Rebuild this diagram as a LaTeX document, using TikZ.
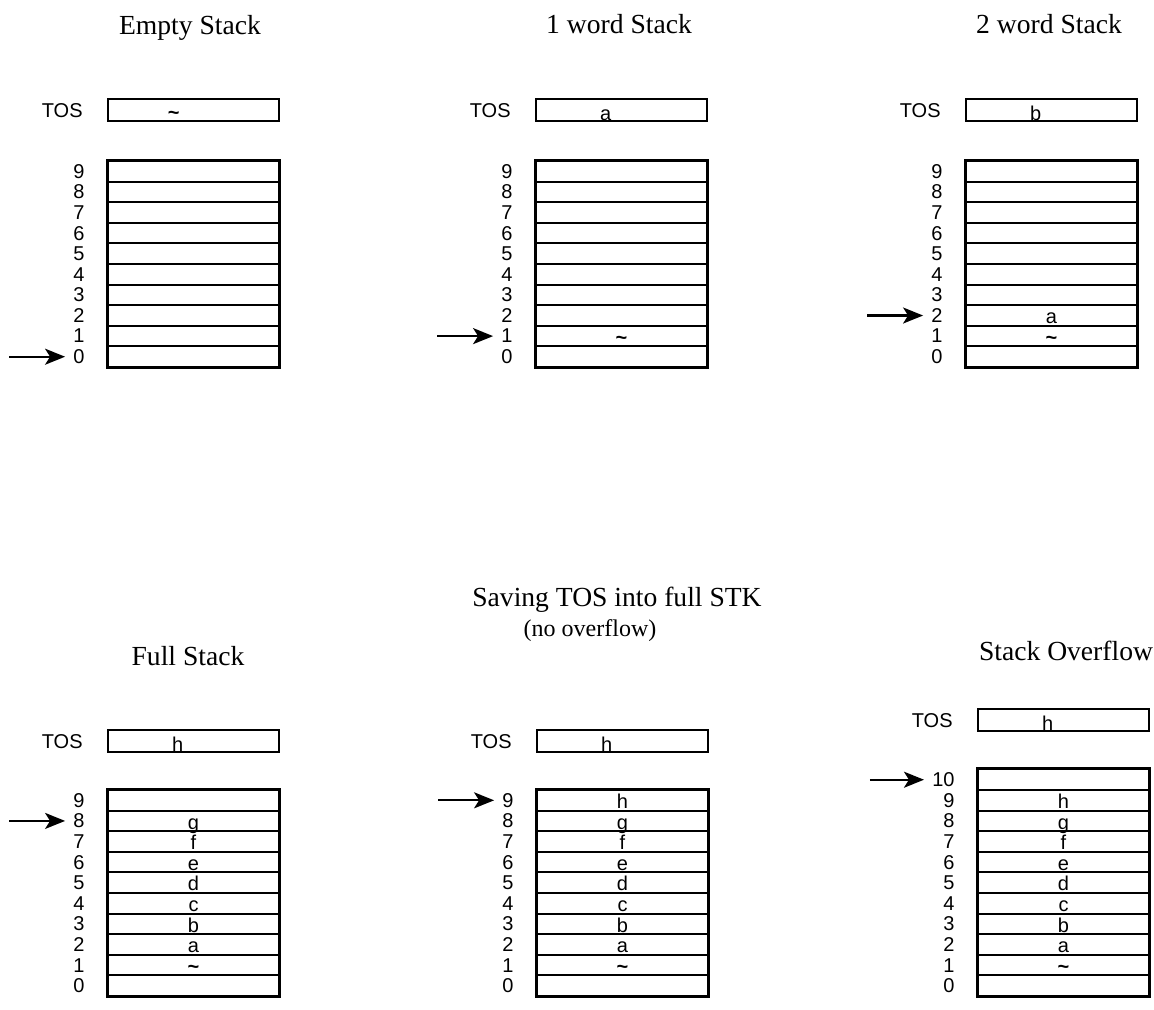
\documentclass[tikz,border=0pt]{standalone}
\usepackage{fontspec}
\setmainfont{Liberation Serif}
\setsansfont{Liberation Sans}
\usepackage{tikz}
\usetikzlibrary{positioning,arrows.meta}

\begin{document}
\begin{tikzpicture}[
    x=0.5pt,y=-0.5pt,
    ttl/.style ={font=\fontsize{13.8}{16}\selectfont,anchor=base,inner sep=0pt},
    subttl/.style={font=\fontsize{12}{14}\selectfont,anchor=base,inner sep=0pt},
    reg/.style ={draw,line width=1.2pt,anchor=north west,minimum width=85.5pt,minimum height=11pt,inner sep=0pt},
    cell/.style={draw,line width=1pt,anchor=north west,minimum width=85.5pt,minimum height=10.3pt,
                 inner sep=0pt,text height=8.2pt,text depth=0pt,font=\sffamily\fontsize{10}{10}\selectfont},
    frame/.style={draw,line width=1.4pt},
    idx/.style ={font=\sffamily\fontsize{10}{10}\selectfont,inner sep=0pt},
    val/.style ={font=\sffamily\fontsize{10}{10}\selectfont,inner sep=0pt,anchor=base},
    ptr/.style ={-{Stealth[length=10pt,width=8pt,inset=2.5pt]},line width=1.1pt,shorten >=4pt},
    ]
    \useasboundingbox (0,0) rectangle (1154,1009);

    % empty stack
    \node[ttl] (ttl1) at (190,34) {Empty Stack};
    \node[reg] (tos1) at (107,98) {};
    \node[val] (tv1) at ([xshift=-10pt,yshift=1.5pt]tos1.south) {\textbf{\textasciitilde}};
    \node[idx,left=12pt of tos1] (tl1) {TOS};
    \foreach \i in {0,...,9}{
      \node[cell] (p1c\i) at (107,{160+(9-\i)*20.6}) {};
      \node[idx,left=11pt of p1c\i] (p1n\i) {\i};
    }
    \draw[frame] (p1c9.north west) rectangle (p1c0.south east);
    \coordinate (p1tail) at ([xshift=-32pt]p1n0.west);
    \draw[ptr] (p1tail) -- (p1n0);

    % 1 word
    \node[ttl] (ttl2) at (619,33) {1 word Stack};
    \node[reg] (tos2) at (535,98) {};
    \node[val] (tv2) at ([xshift=-8pt,yshift=1pt]tos2.south) {a};
    \node[idx,left=12pt of tos2] (tl2) {TOS};
    \foreach \i/\v in {0/{},1/\textbf{\textasciitilde},2/{},3/{},4/{},5/{},6/{},7/{},8/{},9/{}}{
      \node[cell] (p2c\i) at (535,{160+(9-\i)*20.6}) {\v};
      \node[idx,left=11pt of p2c\i] (p2n\i) {\i};
    }
    \draw[frame] (p2c9.north west) rectangle (p2c0.south east);
    \coordinate (p2tail) at ([xshift=-32pt]p2n1.west);
    \draw[ptr] (p2tail) -- (p2n1);

    % 2 word
    \node[ttl] (ttl3) at (1049,33) {2 word Stack};
    \node[reg] (tos3) at (965,98) {};
    \node[val] (tv3) at ([xshift=-8pt,yshift=1pt]tos3.south) {b};
    \node[idx,left=12pt of tos3] (tl3) {TOS};
    \foreach \i/\v in {0/{},1/\textbf{\textasciitilde},2/a,3/{},4/{},5/{},6/{},7/{},8/{},9/{}}{
      \node[cell] (p3c\i) at (965,{160+(9-\i)*20.6}) {\v};
      \node[idx,left=11pt of p3c\i] (p3n\i) {\i};
    }
    \draw[frame] (p3c9.north west) rectangle (p3c0.south east);
    \coordinate (p3tail) at ([xshift=-32pt]p3n2.west);
    \draw[ptr] (p3tail) -- (p3n2);

    % full
    \node[ttl] (ttl4) at (188,665) {Full Stack};
    \node[reg] (tos4) at (107,729) {};
    \node[val] (tv4) at ([xshift=-8pt,yshift=1pt]tos4.south) {h};
    \node[idx,left=12pt of tos4] (tl4) {TOS};
    \foreach \i/\v in {0/{},1/\textbf{\textasciitilde},2/a,3/b,4/c,5/d,6/e,7/f,8/g,9/{}}{
      \node[cell] (p4c\i) at (107,{789+(9-\i)*20.6}) {\v};
      \node[idx,left=11pt of p4c\i] (p4n\i) {\i};
    }
    \draw[frame] (p4c9.north west) rectangle (p4c0.south east);
    \coordinate (p4tail) at ([xshift=-32pt]p4n8.west);
    \draw[ptr] (p4tail) -- (p4n8);

    % save into full
    \node[ttl] (ttl5) at (617,606) {Saving TOS into full STK};
    \node[subttl] (sub5) at (590,636) {(no overflow)};
    \node[reg] (tos5) at (536,729) {};
    \node[val] (tv5) at ([xshift=-8pt,yshift=1pt]tos5.south) {h};
    \node[idx,left=12pt of tos5] (tl5) {TOS};
    \foreach \i/\v in {0/{},1/\textbf{\textasciitilde},2/a,3/b,4/c,5/d,6/e,7/f,8/g,9/h}{
      \node[cell] (p5c\i) at (536,{789+(9-\i)*20.6}) {\v};
      \node[idx,left=11pt of p5c\i] (p5n\i) {\i};
    }
    \draw[frame] (p5c9.north west) rectangle (p5c0.south east);
    \coordinate (p5tail) at ([xshift=-32pt]p5n9.west);
    \draw[ptr] (p5tail) -- (p5n9);

    % overflow
    \node[ttl] (ttl6) at (1066,660) {Stack Overflow};
    \node[reg] (tos6) at (977,708) {};
    \node[val] (tv6) at ([xshift=-8pt,yshift=1pt]tos6.south) {h};
    \node[idx,left=12pt of tos6] (tl6) {TOS};
    \foreach \i/\v in {0/{},1/\textbf{\textasciitilde},2/a,3/b,4/c,5/d,6/e,7/f,8/g,9/h,10/{}}{
      \node[cell] (p6c\i) at (977,{768.4+(10-\i)*20.6}) {\v};
      \node[idx,left=11pt of p6c\i] (p6n\i) {\i};
    }
    \draw[frame] (p6c10.north west) rectangle (p6c0.south east);
    \coordinate (p6tail) at ([xshift=-31pt]p6n10.west);
    \draw[ptr] (p6tail) -- (p6n10);
\end{tikzpicture}
\end{document}
